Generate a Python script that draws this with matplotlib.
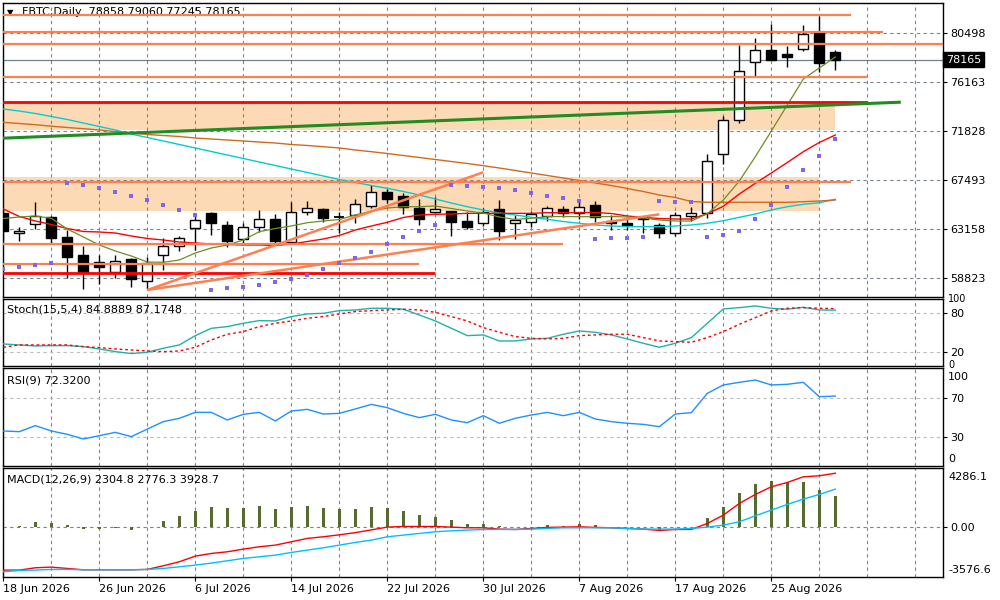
import matplotlib
matplotlib.use("Agg")
import matplotlib.pyplot as plt
import matplotlib.transforms as mtransforms
from matplotlib.patches import Rectangle

# ---- values (one entry per daily bar) ----
date_labels = ["18 Jun 2026", "26 Jun 2026", "6 Jul 2026", "14 Jul 2026", "22 Jul 2026",
               "30 Jul 2026", "7 Aug 2026", "17 Aug 2026", "25 Aug 2026"]
date_label_bars = [0, 6, 12, 18, 24, 30, 36, 42, 48]

opens = [64600, 62830, 63600, 64246, 62450, 60884, 60239, 59407, 60504, 58610,
         60928, 61636, 63246, 64627, 63538, 62273, 63335, 64043, 62008, 64715,
         64927, 64273, 64423, 65246, 66431, 66104, 65069, 64715, 64733, 63892,
         63742, 64927, 63689, 63760, 64308, 64927, 64600, 65308, 63918, 63742,
         64158, 63512, 62804, 64361, 64573, 69793, 72828, 77932, 79020, 78666,
         79082, 80551, 78858]
highs = [64954, 63388, 65546, 64335, 63096, 61680, 60884, 60884, 60619, 60734,
         62361, 62521, 64573, 64644, 63918, 63715, 64865, 64511, 65600, 65662,
         65042, 64644, 65839, 67077, 66724, 66343, 65839, 66015, 64777, 64688,
         65086, 65750, 64423, 64777, 65246, 65219, 65600, 65662, 64423, 64158,
         64246, 63742, 64688, 65158, 69820, 73182, 79507, 80109, 81321, 79401,
         81232, 82028, 79060]
lows = [62123, 62149, 63158, 61919, 58876, 57850, 58318, 58805, 58080, 57832,
        59601, 61264, 61326, 62654, 61592, 61919, 62946, 61769, 61990, 64423,
        63830, 62804, 63742, 65016, 65511, 64538, 63565, 64573, 62565, 63185,
        63449, 62255, 62273, 63388, 63936, 64202, 64069, 63777, 63096, 63096,
        62804, 62388, 62565, 63936, 64131, 68935, 72589, 76720, 78100, 77543,
        78932, 77101, 77245]
closes = [63007, 63034, 64361, 62344, 60734, 59407, 59848, 60353, 58734, 60176,
          61680, 62344, 63981, 63742, 62123, 63335, 64043, 62123, 64662, 65016,
          64114, 64290, 65396, 66431, 65838, 65131, 64095, 64910, 63830, 63388,
          64662, 63034, 63981, 64485, 65016, 64573, 65104, 64246, 63742, 63538,
          64095, 62857, 64396, 64627, 69174, 72828, 77163, 79020, 78136, 78428,
          80409, 77844, 78165]

sar = [59672, 59823, 59999, 60176, 67254, 67121, 66785, 66458, 66104, 65750,
       65334, 64865, 64423, 57788, 57938, 58027, 58203, 58495, 58761, 59115,
       59672, 60176, 60645, 61123, 61831, 62450, 63034, 63512, 67077, 66989,
       66874, 66785, 66635, 66343, 66104, 65901, 65662, 62300, 62388, 62388,
       62477, 65662, 65546, 65546, 62477, 62627, 63007, 64069, 65308, 66900,
       68404, 69643, 71147]

ma_fast = [64113, 64246, 64334, 64131, 63184, 62477, 61769, 61238, 60796, 60265,
           60238, 60442, 61061, 61503, 61769, 62211, 62945, 63229, 63450, 63742,
           63892, 64025, 64423, 64777, 65042, 65157, 65157, 65219, 64998, 64777,
           64600, 64246, 64025, 64131, 64273, 64290, 64273, 64273, 64290, 64246,
           64158, 63981, 63892, 63892, 64538, 65750, 67431, 69581, 71854, 74155,
           76455, 77428, 78401]
ma_mid = [64954, 64290, 63892, 63583, 63229, 62963, 62919, 62830, 62565, 62344,
          62211, 62034, 61946, 61857, 61813, 61769, 61769, 61725, 61857, 62078,
          62300, 62609, 63096, 63450, 63777, 64202, 64423, 64485, 64511, 64573,
          64573, 64573, 64573, 64573, 64627, 64627, 64644, 64644, 64556, 64334,
          64202, 64113, 64069, 64069, 64538, 65193, 66281, 67227, 68139, 69068,
          70023, 70837, 71501]
ma_slow = [72624, 72518, 72412, 72279, 72164, 72058, 71943, 71810, 71677, 71545,
           71456, 71368, 71235, 71147, 71058, 70970, 70881, 70793, 70660, 70572,
           70466, 70350, 70173, 70023, 69864, 69687, 69510, 69333, 69156, 68979,
           68784, 68581, 68360, 68139, 67918, 67696, 67475, 67254, 67033, 66767,
           66502, 66192, 65971, 65617, 65547, 65547, 65547, 65547, 65547, 65547,
           65599, 65662, 65750]
ma_long = [73801, 73624, 73403, 73137, 72872, 72562, 72253, 71943, 71589, 71279,
           70970, 70660, 70350, 70041, 69731, 69422, 69112, 68802, 68493, 68183,
           67873, 67564, 67298, 67033, 66785, 66502, 66192, 65838, 65485, 65157,
           64865, 64600, 64423, 64220, 64043, 63848, 63689, 63538, 63450, 63388,
           63388, 63388, 63450, 63538, 63689, 63919, 64220, 64511, 64865, 65157,
           65369, 65511, 65812]

# drawn objects: horizontal levels (price, last bar), zones, trendlines
coral_levels = [82117, 80586, 79578, 76658, 67369, 61831, 60115]
coral_level_ends = [53, 55, 60, 54, 53, 35, 26]
red_levels = [74447, 59318]
red_level_ends = [54, 27]
zone_low = [71943, 64803]
zone_high = [74447, 67785]
zone_ends = [52, 51]
trend_start_bar = [9, 9]
trend_start_price = [57788, 57788]
trend_end_bar = [30, 41]
trend_end_price = [68201, 64485]
green_bars = [-1, 56]
green_prices = [71164, 74400]
price_ticks = [58823, 63158, 67493, 71828, 76163, 80498]

stoch_main = [32.8, 31.3, 29.7, 30.3, 30.3, 28.7, 25.1, 21.0, 18.0, 20.0,
              26.2, 31.3, 45.6, 56.9, 59.5, 64.6, 68.7, 68.2, 74.9, 79.0,
              80.0, 84.1, 85.1, 87.7, 87.7, 86.2, 77.4, 68.2, 56.9, 45.6,
              46.7, 37.4, 37.4, 40.5, 41.5, 47.7, 52.8, 50.8, 46.7, 40.5,
              33.8, 27.7, 33.8, 42.6, 64.6, 86.7, 88.7, 91.3, 87.7, 86.2,
              89.2, 85.1, 84.89]
stoch_signal = [27.7, 31.3, 31.3, 31.3, 31.3, 28.7, 27.2, 25.1, 23.6, 22.0,
                21.0, 22.0, 27.7, 39.0, 47.7, 51.8, 59.5, 64.6, 68.2, 72.3,
                74.9, 79.0, 82.6, 84.1, 85.1, 86.2, 85.1, 81.5, 74.9, 68.2,
                58.0, 50.8, 44.1, 41.5, 40.5, 41.5, 45.6, 46.7, 47.7, 47.7,
                42.6, 37.4, 36.4, 35.4, 42.6, 51.8, 63.1, 73.3, 83.6, 87.7,
                88.7, 87.7, 87.17]
rsi = [36.5, 35.8, 42.0, 36.5, 33.1, 28.3, 31.7, 35.1, 30.7, 38.5,
       46.1, 49.5, 55.6, 55.6, 47.8, 53.6, 55.6, 46.8, 57.0, 58.7,
       53.9, 54.6, 59.1, 63.8, 60.4, 54.6, 50.2, 53.6, 47.8, 45.0,
       52.2, 44.4, 49.5, 52.9, 55.6, 52.2, 55.6, 48.8, 46.1, 44.4,
       43.3, 40.9, 53.9, 55.3, 75.1, 83.7, 86.4, 88.8, 83.7, 84.4,
       86.4, 71.7, 72.32]
macd_hist = [30, 70, 363, 290, 170, -145, -120, -24, -170, 0,
             460, 820, 1184, 1474, 1402, 1402, 1547, 1329, 1498, 1547,
             1426, 1329, 1329, 1474, 1426, 1184, 894, 749, 532, 242,
             218, 97, 30, 50, 170, 100, 218, 170, 48, 24,
             30, -218, 24, 30, 700, 1500, 2490, 3143, 3360, 3263,
             3311, 2707, 2304.8]
macd_red = [-3097, -3097, -2930, -2882, -2978, -3075, -3075, -3075, -3075, -3050,
            -2784, -2494, -2083, -1890, -1769, -1576, -1406, -1286, -1044, -800,
            -680, -540, -380, -180, 19, 67, 67, 67, 19, -29,
            -29, -125, -150, -77, 0, 19, 43, 0, -29, -77,
            -125, -222, -150, -150, 285, 890, 1736, 2389, 2945, 3259,
            3670, 3743, 3928.7]
macd_blue = [-3220, -3123, -3097, -3050, -3050, -3075, -3075, -3075, -3075, -3050,
             -2978, -2857, -2736, -2591, -2422, -2252, -2132, -2011, -1818, -1648,
             -1479, -1286, -1092, -923, -681, -560, -439, -318, -246, -197,
             -150, -150, -150, -125, -77, -29, -29, -29, -29, -77,
             -125, -125, -125, -77, 19, 164, 406, 842, 1253, 1664,
             2051, 2389, 2776.3]

header = "FBTC,Daily  78858 79060 77245 78165"
stoch_title = "Stoch(15,5,4) 84.8889 87.1748"
rsi_title = "RSI(9) 72.3200"
macd_title = "MACD(12,26,9) 2304.8 2776.3 3928.7"

# ---- styling ----
GRID_C = "#7A8591"
LEVEL_C = "#BDBDBD"
CORAL = "#FF7F50"
PEACH = "#FDDAB6"
DASH = (0, (3, 3))
BAR_W = 0.62

plt.rcParams["font.family"] = ["DejaVu Sans"]
plt.rcParams["font.size"] = 8

fig = plt.figure(figsize=(10, 6), dpi=100)


def panel(top_px, bottom_px):
    return fig.add_axes([3 / 1000, 1 - bottom_px / 600, 940 / 1000, (bottom_px - top_px) / 600])


ax = panel(3, 297)
ax_st = panel(299.3, 366)
ax_rsi = panel(368.3, 465.7)
ax_macd = panel(468.3, 576.7)

n = len(opens)
bars = list(range(n))
x_left, x_right = -0.02, 58.73
grid_bars = list(range(0, 58, 3))

for a in (ax, ax_st, ax_rsi, ax_macd):
    for s in a.spines.values():
        s.set_color("black")
        s.set_linewidth(1.0)
    a.vlines(grid_bars, 0, 1, transform=a.get_xaxis_transform(), colors=GRID_C,
             linestyles=DASH, linewidth=0.8, zorder=1)
    a.yaxis.tick_right()
    a.tick_params(axis="x", bottom=False, labelbottom=False)
    a.tick_params(axis="y", length=3, width=0.8, pad=2, labelsize=8, colors="black")


def edge_label(a, y, text, va, dy, size=8):
    tr = mtransforms.blended_transform_factory(a.transAxes, a.transData)
    tr = mtransforms.offset_copy(tr, fig=fig, x=5, y=dy, units="dots")
    a.text(1.0, y, text, transform=tr, va=va, ha="left", fontsize=size, clip_on=False)


# ---- main price panel ----
ax.hlines(price_ticks, 0, 1, transform=ax.get_yaxis_transform(), colors=GRID_C,
          linestyles=DASH, linewidth=0.8, zorder=1)
for lo, hi, end in zip(zone_low, zone_high, zone_ends):
    ax.add_patch(Rectangle((x_left - 1, lo), end - x_left + 1, hi - lo,
                           facecolor=PEACH, edgecolor="none", zorder=0.5))

ax.axhline(closes[-1], color="#708090", linewidth=0.9, zorder=2)

for i in bars:
    o, h, l, c = opens[i], highs[i], lows[i], closes[i]
    ax.vlines(i, l, h, color="black", linewidth=1.0, zorder=3)
    lo, hi = min(o, c), max(o, c)
    if hi - lo < 60:
        ax.hlines((o + c) / 2, i - BAR_W / 2, i + BAR_W / 2, color="black", linewidth=1.3, zorder=3.1)
    else:
        ax.add_patch(Rectangle((i - BAR_W / 2, lo), BAR_W, hi - lo,
                               facecolor="white" if c > o else "black",
                               edgecolor="black", linewidth=1.0, zorder=3.1))

ax.plot(bars, ma_long, color="#00CED1", linewidth=1.0, zorder=4)
ax.plot(bars, ma_slow, color="#D2691E", linewidth=1.0, zorder=4)
ax.plot(bars, ma_mid, color="#FF0000", linewidth=1.0, zorder=4)
ax.plot(bars, ma_fast, color="#6B8E23", linewidth=0.9, zorder=4)

for p, end in zip(coral_levels, coral_level_ends):
    ax.hlines(p, x_left - 1, end, color=CORAL, linewidth=1.6, zorder=5)
for p, end in zip(red_levels, red_level_ends):
    ax.hlines(p, x_left - 1, end, color="#FF0000", linewidth=2.0, zorder=5)
for b0, p0, b1, p1 in zip(trend_start_bar, trend_start_price, trend_end_bar, trend_end_price):
    ax.plot([b0, b1], [p0, p1], color=CORAL, linewidth=1.8, zorder=5, solid_capstyle="butt")
ax.plot(green_bars, green_prices, color="#228B22", linewidth=2.2, zorder=5)

ax.plot(bars, sar, linestyle="none", marker="s", markersize=2.8, color="#7B68EE",
        markeredgewidth=0, zorder=6)

ax.set_yticks(price_ticks)
ax.set_yticklabels([str(p) for p in price_ticks])
price_tr = mtransforms.blended_transform_factory(ax.transAxes, ax.transData)
ax.text(1.003, closes[-1], "78165", transform=price_tr, va="center", ha="left",
        color="white", fontsize=8, clip_on=False,
        bbox=dict(boxstyle="square,pad=0.25", facecolor="black", edgecolor="black"))
ax.set_xlim(x_left, x_right)
ax.set_ylim(57168, 83179)

ax.text(0.0045, 0.969, "\u25BC", transform=ax.transAxes, fontsize=6, va="center", ha="left")
ax.text(0.0198, 0.969, header, transform=ax.transAxes, fontsize=8, va="center", ha="left")

# ---- stochastic ----
ax_st.hlines([80, 20], 0, 1, transform=ax_st.get_yaxis_transform(), colors=LEVEL_C,
             linestyles=DASH, linewidth=0.8, zorder=1)
ax_st.plot(bars, stoch_main, color="#20B2AA", linewidth=1.0, zorder=3)
ax_st.plot(bars, stoch_signal, color="#FF0000", linewidth=1.0, linestyle=(0, (2, 2)), zorder=3)
ax_st.set_xlim(x_left, x_right)
ax_st.set_ylim(-1.1, 101.5)
ax_st.set_yticks([20, 80])
ax_st.set_yticklabels(["20", "80"])
# edge labels squeezed against the panel border so they clear the 80 / 20 labels
edge_label(ax_st, 100, "100", "center", 1, size=7)
edge_label(ax_st, 0, "0", "center", 0, size=7)
ax_st.text(0.0045, 0.84, stoch_title, transform=ax_st.transAxes, fontsize=8, va="center")

# ---- RSI ----
ax_rsi.hlines([70, 30], 0, 1, transform=ax_rsi.get_yaxis_transform(), colors=LEVEL_C,
              linestyles=DASH, linewidth=0.8, zorder=1)
ax_rsi.plot(bars, rsi, color="#1E90FF", linewidth=1.0, zorder=3)
ax_rsi.set_xlim(x_left, x_right)
ax_rsi.set_ylim(0.9, 100.8)
ax_rsi.set_yticks([30, 70])
ax_rsi.set_yticklabels(["30", "70"])
edge_label(ax_rsi, 100, "100", "top", -3)
edge_label(ax_rsi, 0, "0", "bottom", 3)
ax_rsi.text(0.0045, 0.875, rsi_title, transform=ax_rsi.transAxes, fontsize=8, va="center")

# ---- MACD ----
ax_macd.axhline(0, color=GRID_C, linestyle=DASH, linewidth=0.8, zorder=1)
ax_macd.bar(bars, macd_hist, width=0.19, color="#556B2F", zorder=2)
ax_macd.plot(bars, macd_red, color="#FF0000", linewidth=1.0, zorder=3)
ax_macd.plot(bars, macd_blue, color="#00BFFF", linewidth=1.0, zorder=3)
ax_macd.set_xlim(x_left, x_right)
ax_macd.set_ylim(-3576.6, 4286.1)
ax_macd.set_yticks([0])
ax_macd.set_yticklabels(["0.00"])
edge_label(ax_macd, 4286.1, "4286.1", "top", -4)
edge_label(ax_macd, -3576.6, "-3576.6", "bottom", 2)
ax_macd.text(0.0045, 0.9, macd_title, transform=ax_macd.transAxes, fontsize=8, va="center")
ax_macd.set_xticks(date_label_bars)
ax_macd.set_xticklabels(date_labels, ha="left")
ax_macd.tick_params(axis="x", bottom=True, labelbottom=True, length=3, width=0.8, pad=2,
                    labelsize=8, colors="black")

fig.savefig("out.png", dpi=100, facecolor="white")
